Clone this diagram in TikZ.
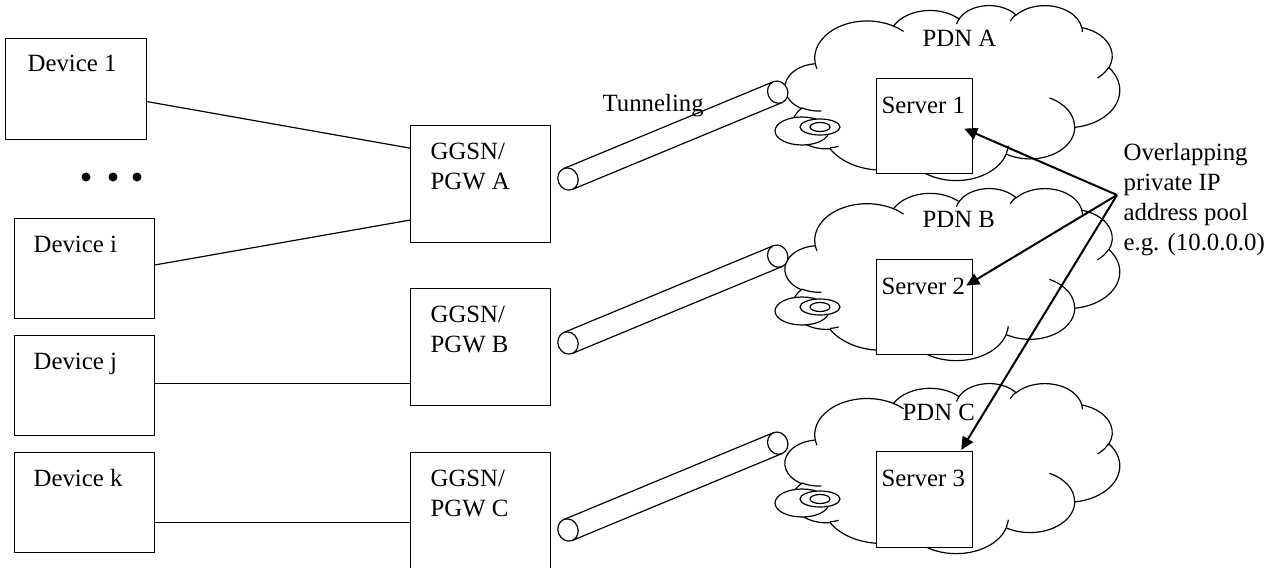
\documentclass[tikz,border=0pt]{standalone}
\usepackage{fontspec}
\setmainfont{Liberation Serif}
\usetikzlibrary{arrows.meta}
\usetikzlibrary{calc}

\tikzset{
  pdn cloud/.pic={
    \draw[fill=white] (39.00,143.70)
      arc[start angle=-187.75, end angle=-59.63, x radius=67.53, y radius=91.90]
      arc[start angle=-152.02, end angle=-45.45, x radius=53.33, y radius=72.67]
      arc[start angle=-153.48, end angle=-37.32, x radius=43.65, y radius=59.45]
      arc[start angle=-139.71, end angle=-10.21, x radius=48.57, y radius=65.95]
      arc[start angle=-74.78, end angle=23.21, x radius=53.33, y radius=72.73]
      arc[start angle=-37.55, end angle=81.86, x radius=67.75, y radius=92.20]
      arc[start angle=0.46, end angle=121.97, x radius=57.85, y radius=78.67]
      arc[start angle=16.84, end angle=146.25, x radius=67.52, y radius=92.15]
      arc[start angle=59.01, end angle=150.16, x radius=77.20, y radius=105.43]
      arc[start angle=-276.69, end angle=-136.92, x radius=43.60, y radius=59.18]
      arc[start angle=-239.64, end angle=-95.89, x radius=43.45, y radius=59.45]
      -- cycle;
    \draw (46.93,261.77) arc[start angle=85.55, end angle=120.36, x radius=43.45, y radius=59.45];
    \draw (69.28,348.99) arc[start angle=68.27, end angle=83.31, x radius=43.60, y radius=59.18];
    \draw (164.78,390.90) arc[start angle=146.25, end angle=158.48, x radius=67.52, y radius=92.15];
    \draw (288.27,347.51) arc[start angle=4.74, end angle=16.84, x radius=67.52, y radius=92.15];
    \draw (341.29,229.54) arc[start angle=-64.01, end angle=0.46, x radius=57.85, y radius=78.67];
    \draw (417.98,153.54) arc[start angle=23.21, end angle=49.65, x radius=53.33, y radius=72.73];
    \draw (383.24,54.26) arc[start angle=-10.21, end angle=0.82, x radius=48.57, y radius=65.95];
    \draw (290.78,39.52) arc[start angle=-156.29, end angle=-139.71, x radius=48.57, y radius=65.95];
    \draw (221.41,47.20) arc[start angle=-167.72, end angle=-153.48, x radius=43.65, y radius=59.45];
    \draw (140.00,51.92) arc[start angle=-59.63, end angle=-45.73, x radius=67.53, y radius=91.90];
    \draw (41.27,157.89) arc[start angle=163.19, end angle=172.26, x radius=67.53, y radius=91.90];
  },
  bubbles/.pic={
    \draw[fill=white] (0,0) ellipse[x radius=27, y radius=14];
    \draw[fill=white] (18,-4) ellipse[x radius=20, y radius=8];
    \draw[fill=white] (18,-4) ellipse[x radius=10, y radius=4.5];
  },
  tunnel/.pic={
    \draw (0,-11.3) -- (227,-11.3);
    \draw (0,11.3) -- (227,11.3);
    \draw[fill=white] (0,0) ellipse[x radius=10, y radius=11.3];
    \draw[fill=white] (227,0) ellipse[x radius=10, y radius=11.3];
  }
}

\begin{document}
\begin{tikzpicture}[x=0.5pt, y=-0.5pt, line width=0.6pt,
  every node/.style={font=\fontsize{12.4}{15}\selectfont, inner sep=0pt},
  box/.style={draw, fill=white, rectangle, anchor=north west},
  devbox/.style={box, minimum width=70pt, minimum height=50pt},
  gwbox/.style={box, minimum width=70pt, minimum height=58.5pt},
  srvbox/.style={box, minimum width=48pt, minimum height=47.5pt},
  pointer/.style={-{Triangle[length=6.5pt, width=6pt]}, line width=1pt}]

  \useasboundingbox (0,0) rectangle (1277,567);

  % clouds
  \pic[xscale=0.7746, yscale=0.4049] at (785,5) {pdn cloud};
  \pic[xscale=0.7746, yscale=0.3981] at (785,188) {pdn cloud};
  \pic[xscale=0.7746, yscale=0.3935] at (785,383) {pdn cloud};
  \pic at (802,131) {bubbles};
  \pic at (802,311) {bubbles};
  \pic at (802,503) {bubbles};

  % tunnels
  \pic[rotate=22.5] at (568,179) {tunnel};
  \pic[rotate=22.5] at (568,343) {tunnel};
  \pic[rotate=22.5] at (568,530) {tunnel};

  \node (tun) [anchor=base west] at (602,112) {Tunneling};
  \node (pA) [anchor=base west] at (922,47) {PDN A};
  \node (pB) [anchor=base west] at (922,227) {PDN B};
  \node (pC) [anchor=base west] at (902,420) {PDN C};

  % devices
  \node (d1) [devbox, minimum width=70.5pt, minimum height=50.5pt] at (5,38) {};
  \node (di) [devbox] at (14,218) {};
  \node (dj) [devbox] at (14,335) {};
  \node (dk) [devbox] at (14,452) {};
  \node (d1t) [anchor=base west] at ([xshift=11pt, yshift=-17pt]d1.north west) {Device 1};
  \node (dit) [anchor=base west] at ([xshift=9.5pt, yshift=-17pt]di.north west) {Device i};
  \node (djt) [anchor=base west] at ([xshift=9.5pt, yshift=-17pt]dj.north west) {Device j};
  \node (dkt) [anchor=base west] at ([xshift=9.5pt, yshift=-17pt]dk.north west) {Device k};

  % gateways
  \node (gA) [gwbox] at (410,125) {};
  \node (gB) [gwbox] at (410,288) {};
  \node (gC) [gwbox] at (410,452) {};
  \node (gAt) [anchor=north west, align=left] at ([xshift=10pt, yshift=-8.6pt]gA.north west) {GGSN/\\PGW A};
  \node (gBt) [anchor=north west, align=left] at ([xshift=10pt, yshift=-8.6pt]gB.north west) {GGSN/\\PGW B};
  \node (gCt) [anchor=north west, align=left] at ([xshift=10pt, yshift=-8.6pt]gC.north west) {GGSN/\\PGW C};

  % servers
  \node (s1) [srvbox] at (876,78) {};
  \node (s2) [srvbox] at (876,259) {};
  \node (s3) [srvbox, minimum height=48pt] at (876,451) {};
  \node (s1t) [anchor=base west] at ([xshift=2.5pt, yshift=-17.5pt]s1.north west) {Server 1};
  \node (s2t) [anchor=base west] at ([xshift=2.5pt, yshift=-17.5pt]s2.north west) {Server 2};
  \node (s3t) [anchor=base west] at ([xshift=2.5pt, yshift=-17.5pt]s3.north west) {Server 3};

  \node (note) [anchor=north west, align=left] at (1123,143)
    {Overlapping\\private IP\\address pool\\e.g. (10.0.0.0)};

  % links
  \draw (d1.-10) -- (gA.153);
  \draw (di.3) -- (gA.207);
  \draw (dj.2) -- (dj.2 -| gB.west);
  \draw (dk.344) -- (dk.344 -| gC.west);

  \coordinate (pool) at (1117,195);
  \draw[pointer] (pool) -- ($(s1.east)+(-9,2.5)$);
  \draw[pointer] (pool) -- ($(s2.east)+(-7,-21.5)$);
  \draw[pointer] (pool) -- ($(s3.north east)+(-12,-1)$);

  % dots
  \fill (86,177) circle[radius=4.5];
  \fill (113,177) circle[radius=4.5];
  \fill (137,177) circle[radius=4.5];
\end{tikzpicture}
\end{document}
